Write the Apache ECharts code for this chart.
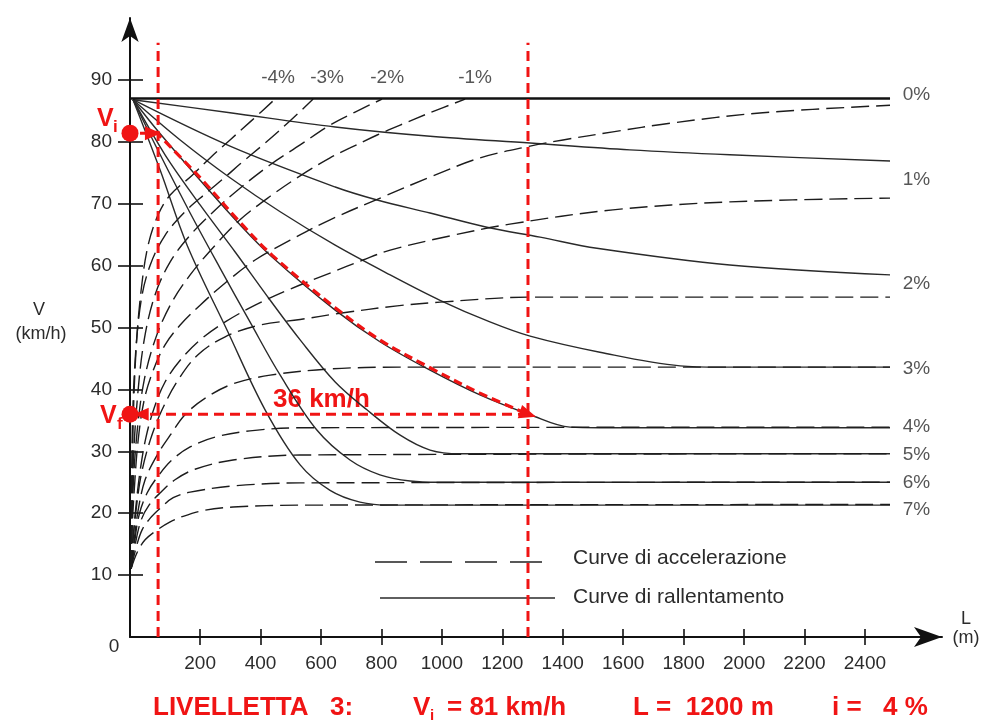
<!DOCTYPE html>
<html>
<head>
<meta charset="utf-8">
<script src="https://cdn.jsdelivr.net/npm/echarts@6/dist/echarts.min.js"></script>
<style>html,body{margin:0;padding:0;background:#fff}#c{width:987px;height:724px}</style>
</head>
<body>
<div id="c"></div>
<script>
// ---- tick values ----
const xTicks = [200,400,600,800,1000,1200,1400,1600,1800,2000,2200,2400];
const yTicks = [10,20,30,40,50,60,70,80,90];

// ---- deceleration curves (solid), [L (m), V (km/h)] ----
const decel0 = [[-32,87.0],[2483,87.0]];
const decel1 = [[-22,86.8],[299,84.7],[647,82.4],[961,80.9],[1292,79.8],[1622,78.7],[1953,77.9],[2483,76.9]];
const decel2 = [[-22,86.8],[299,79.3],[647,72.7],[786,70.6],[961,68.5],[1149,66.2],[1325,64.6],[1513,62.8],[1953,60.1],[2483,58.5]];
const decel3 = [[-22,86.8],[134,80.3],[299,74.2],[465,68.7],[647,63.3],[829,58.5],[994,54.4],[1159,50.9],[1292,48.6],[1523,46.0],[1788,43.8],[1920,43.6],[2483,43.6]];
const decel4 = [[-22,86.8],[61,81.7],[200,73.8],[332,66.6],[438,61.4],[647,52.8],[795,47.7],[961,43.1],[1126,39.1],[1292,35.9],[1424,33.9],[1523,33.8],[2483,33.8]];
const decel5 = [[-22,86.8],[84,77.9],[200,69.8],[316,62.2],[432,54.4],[531,48.0],[647,41.2],[752,36.7],[862,32.6],[961,30.2],[1060,29.6],[2483,29.6]];
const decel6 = [[-22,86.8],[68,77.9],[167,68.5],[266,59.6],[365,50.9],[465,42.3],[587,33.4],[696,28.6],[795,26.2],[895,25.2],[994,25.0],[2483,25.0]];
const decel7 = [[-22,86.8],[68,75.4],[157,63.3],[289,49.6],[415,36.7],[531,27.8],[630,23.7],[729,21.8],[829,21.3],[2483,21.3]];

// ---- acceleration curves (dashed) ----
const accel7 = [[-28,11.1],[-8,13.7],[18,15.7],[58,17.3],[101,18.6],[144,19.5],[217,20.5],[309,21.0],[531,21.3],[2483,21.4]];
const accel6 = [[-28,11.1],[-12,14.4],[8,17.3],[35,19.2],[68,20.8],[111,22.5],[167,23.4],[309,24.4],[531,24.9],[2483,25.0]];
const accel5 = [[-28,11.1],[-15,14.9],[5,18.9],[31,21.3],[68,23.3],[117,25.4],[183,27.1],[309,28.6],[531,29.4],[2483,29.6]];
const accel4 = [[-28,11.1],[-18,14.9],[-2,19.7],[25,23.3],[61,26.0],[107,28.6],[167,30.7],[250,32.3],[365,33.3],[531,33.8],[2483,33.9]];
const accel3 = [[-28,11.1],[-18,15.7],[-5,20.5],[18,25.4],[58,29.4],[101,32.6],[150,35.9],[217,38.6],[309,40.9],[432,42.3],[630,43.3],[862,43.6],[2483,43.6]];
const accel2 = [[-28,11.1],[-22,15.7],[-12,20.5],[5,26.2],[35,31.8],[74,36.7],[127,41.5],[193,45.6],[283,48.5],[398,50.4],[531,51.3],[663,52.3],[852,53.5],[994,54.1],[1292,54.9],[2483,54.9]];
const accel1 = [[-28,11.1],[-22,15.7],[-12,21.3],[2,27.0],[21,32.3],[48,37.0],[84,41.2],[134,44.7],[200,48.0],[283,50.9],[382,53.6],[498,56.2],[630,58.8],[739,60.9],[829,62.5],[1027,64.8],[1225,66.7],[1566,69.0],[1953,70.3],[2483,70.9]];
const accel0 = [[-28,11.1],[-25,17.3],[-18,23.7],[-5,31.8],[15,38.3],[45,43.1],[84,47.2],[134,50.4],[200,53.6],[283,57.2],[382,60.9],[498,64.1],[630,67.4],[805,71.1],[961,74.3],[1126,77.4],[1292,79.3],[1401,80.3],[1566,81.6],[1755,83.0],[2062,84.7],[2483,85.9]];
const accelM1 = [[-28,11.1],[-22,23.7],[-8,33.4],[15,41.5],[51,48.0],[101,53.6],[167,58.5],[250,63.3],[332,67.4],[432,71.2],[531,74.5],[630,77.4],[696,79.0],[786,81.1],[862,82.7],[961,84.7],[1077,86.9]];
const accelM2 = [[-28,11.1],[-22,27.0],[-8,38.3],[15,48.0],[51,55.3],[101,60.6],[167,64.9],[250,69.0],[332,72.5],[432,76.3],[531,79.5],[630,82.7],[713,84.8],[802,86.9]];
const accelM3 = [[-28,11.1],[-25,31.8],[-15,44.7],[5,54.4],[35,60.1],[84,64.9],[150,68.7],[217,71.6],[283,74.3],[332,76.4],[415,79.8],[498,83.4],[574,86.9]];
const accelM4 = [[-28,11.1],[-22,33.4],[-12,46.4],[5,56.1],[28,63.3],[61,68.2],[101,71.4],[174,74.6],[233,77.4],[299,80.3],[372,83.5],[448,86.9]];

// ---- labels ----
const gradeNames = ['0%','1%','2%','3%','4%','5%','6%','7%'];
const gradeLabelV = [87.6,73.8,57.0,43.3,33.9,29.4,24.9,20.5];
const gradeLabelL = 2525;
const downhillNames = ['-4%','-3%','-2%','-1%'];
const downhillL = [458,620,819,1110];
const downhillLabelV = 90.3;

// ---- red annotation (worked example) ----
const viSpeed = 81.4;
const vfSpeed = 36.0;
const startL = 61;
const endL = 1285;
const redTop = 96;
const redCurve = [[51,81.7],[200,74.2],[332,67.0],[438,61.7],[647,53.2],[795,48.0],[961,43.5],[1126,39.4],[1285,36.0]];
const viArrowEnd = 44;
const vfArrowEnd = 5;

const RED = '#f01414';
const FONT = '"Liberation Sans", Arial, Helvetica, sans-serif';
const INK = '#2b2b2b';

function curve(name, data, dashed) {
  return {
    type: 'line', name: name, data: data, symbol: 'none', smooth: 0.35,
    silent: true, z: 2,
    lineStyle: dashed ? {color: '#1c1c1c', width: 1.4, type: [18, 7]} : {color: '#2a2a2a', width: 1.4}
  };
}

const series = [];
[decel1, decel2, decel3, decel4, decel5, decel6, decel7].forEach(d => series.push(curve('Curve di rallentamento', d, false)));
[accel7, accel6, accel5, accel4, accel3, accel2, accel1, accel0, accelM1, accelM2, accelM3, accelM4].forEach(d => series.push(curve('Curve di accelerazione', d, true)));
series.push({type: 'line', name: '0%', data: decel0, symbol: 'none', silent: true, z: 3, lineStyle: {color: '#111', width: 2.4}});

// grade labels
series.push({
  type: 'scatter', silent: true, symbolSize: 0, z: 4,
  data: gradeNames.map((n, i) => ({value: [gradeLabelL, gradeLabelV[i]], name: n})),
  label: {show: true, position: 'right', distance: 0, formatter: p => p.name, fontSize: 19, color: INK, fontFamily: FONT}
});
series.push({
  type: 'scatter', silent: true, symbolSize: 0, z: 4,
  data: downhillNames.map((n, i) => ({value: [downhillL[i], downhillLabelV], name: n})),
  label: {show: true, position: 'inside', formatter: p => p.name, fontSize: 19, color: INK, fontFamily: FONT}
});

const redDash = {color: RED, width: 3, type: [10, 6]};
// red verticals
series.push({type: 'line', data: [[startL, 0], [startL, redTop]], symbol: 'none', silent: true, z: 5, lineStyle: redDash});
series.push({type: 'line', data: [[endL, 0], [endL, redTop]], symbol: 'none', silent: true, z: 5, lineStyle: redDash});
// red curve along 4% with arrow
series.push({
  type: 'line', silent: true, z: 6, symbol: 'none', showSymbol: true, smooth: 0.35,
  lineStyle: {color: RED, width: 3.2, type: [9, 5]}, itemStyle: {color: RED, opacity: 1},
  data: redCurve.map((p, i) => i === redCurve.length - 1 ? {value: p, symbol: 'triangle', symbolSize: [14, 17], symbolRotate: -108} : p)
});
// horizontal Vf line with arrow
series.push({
  type: 'line', silent: true, z: 6, symbol: 'none', showSymbol: true,
  lineStyle: {color: RED, width: 3, type: [10, 6]}, itemStyle: {color: RED, opacity: 1},
  data: [[endL, vfSpeed], {value: [vfArrowEnd, vfSpeed], symbol: 'triangle', symbolSize: [13, 15], symbolRotate: 90}]
});
// Vi arrow
series.push({
  type: 'line', silent: true, z: 6, symbol: 'none', showSymbol: true,
  lineStyle: {color: RED, width: 3, type: [6, 4]}, itemStyle: {color: RED, opacity: 1},
  data: [[-32, viSpeed], {value: [viArrowEnd, viSpeed], symbol: 'triangle', symbolSize: [14, 16], symbolRotate: -90}]
});
// dots
series.push({
  type: 'scatter', silent: true, z: 7, symbolSize: 17, clip: false, itemStyle: {color: RED, opacity: 1},
  data: [[-32, viSpeed], [-32, vfSpeed]]
});

const axisLineStyle = {color: '#111', width: 2};
const tickStyle = {color: '#111', width: 1.6};
const plain = v => String(v);

const option = {
  animation: false,
  backgroundColor: '#fff',
  grid: {left: 130, right: 45, top: 18, bottom: 87, containLabel: false},
  xAxis: [{
    type: 'value', min: -32, max: 2655,
    axisLine: {show: true, onZero: false, lineStyle: axisLineStyle, symbol: ['none', 'arrow'], symbolSize: [15, 28]},
    axisTick: {show: true, customValues: xTicks, length: 8, lineStyle: tickStyle},
    axisLabel: {show: true, customValues: xTicks, formatter: plain, margin: 17, fontSize: 19, color: INK, fontFamily: FONT},
    splitLine: {show: false}
  }, {
    type: 'value', min: -32, max: 2655, position: 'bottom',
    axisLine: {show: false, onZero: false},
    axisTick: {show: true, inside: true, customValues: xTicks, length: 8, lineStyle: tickStyle},
    axisLabel: {show: false}, splitLine: {show: false}
  }],
  yAxis: [{
    type: 'value', min: 0, max: 100,
    axisLine: {show: true, onZero: false, lineStyle: axisLineStyle, symbol: ['none', 'arrow'], symbolSize: [13, 24]},
    axisTick: {show: true, customValues: yTicks, length: 12, lineStyle: tickStyle},
    axisLabel: {show: true, customValues: yTicks, formatter: plain, margin: 18, fontSize: 19, color: INK, fontFamily: FONT},
    splitLine: {show: false}
  }, {
    type: 'value', min: 0, max: 100, position: 'left',
    axisLine: {show: false, onZero: false},
    axisTick: {show: true, inside: true, customValues: yTicks, length: 13, lineStyle: tickStyle},
    axisLabel: {show: false}, splitLine: {show: false}
  }],
  series: series,
  graphic: [
    {type: 'text', x: 39, y: 310, style: {text: 'V', fontSize: 18, fill: INK, fontFamily: FONT, align: 'center', verticalAlign: 'middle'}},
    {type: 'text', x: 41, y: 334, style: {text: '(km/h)', fontSize: 18, fill: INK, fontFamily: FONT, align: 'center', verticalAlign: 'middle'}},
    {type: 'text', x: 114, y: 647, style: {text: '0', fontSize: 19, fill: INK, fontFamily: FONT, align: 'center', verticalAlign: 'middle'}},
    {type: 'text', x: 966, y: 619, style: {text: 'L', fontSize: 18, fill: INK, fontFamily: FONT, align: 'center', verticalAlign: 'middle'}},
    {type: 'text', x: 966, y: 638, style: {text: '(m)', fontSize: 18, fill: INK, fontFamily: FONT, align: 'center', verticalAlign: 'middle'}},
    // legend
    {type: 'line', shape: {x1: 375, y1: 562, x2: 555, y2: 562}, style: {stroke: '#222', lineWidth: 1.7, lineDash: [32, 13]}},
    {type: 'line', shape: {x1: 380, y1: 598, x2: 555, y2: 598}, style: {stroke: '#2a2a2a', lineWidth: 1.4}},
    {type: 'text', x: 573, y: 558, style: {text: 'Curve di accelerazione', fontSize: 21, fill: INK, fontFamily: FONT, align: 'left', verticalAlign: 'middle'}},
    {type: 'text', x: 573, y: 597, style: {text: 'Curve di rallentamento', fontSize: 21, fill: INK, fontFamily: FONT, align: 'left', verticalAlign: 'middle'}},
    // red labels
    {type: 'text', x: 97, y: 119, style: {text: 'V', fontSize: 25, fontWeight: 'bold', fill: RED, fontFamily: FONT, align: 'left', verticalAlign: 'middle'}},
    {type: 'text', x: 113, y: 127, style: {text: 'i', fontSize: 17, fontWeight: 'bold', fill: RED, fontFamily: FONT, align: 'left', verticalAlign: 'middle'}},
    {type: 'text', x: 100, y: 416, style: {text: 'V', fontSize: 25, fontWeight: 'bold', fill: RED, fontFamily: FONT, align: 'left', verticalAlign: 'middle'}},
    {type: 'text', x: 117, y: 424, style: {text: 'f', fontSize: 17, fontWeight: 'bold', fill: RED, fontFamily: FONT, align: 'left', verticalAlign: 'middle'}},
    {type: 'text', x: 273, y: 400, style: {text: '36 km/h', fontSize: 26, fontWeight: 'bold', fill: RED, fontFamily: FONT, align: 'left', verticalAlign: 'middle'}},
    // bottom caption
    {type: 'text', x: 153, y: 708, style: {text: 'LIVELLETTA', fontSize: 26, fontWeight: 'bold', fill: RED, fontFamily: FONT, align: 'left', verticalAlign: 'middle'}},
    {type: 'text', x: 330, y: 708, style: {text: '3:', fontSize: 26, fontWeight: 'bold', fill: RED, fontFamily: FONT, align: 'left', verticalAlign: 'middle'}},
    {type: 'text', x: 413, y: 708, style: {text: 'V', fontSize: 26, fontWeight: 'bold', fill: RED, fontFamily: FONT, align: 'left', verticalAlign: 'middle'}},
    {type: 'text', x: 430, y: 716, style: {text: 'i', fontSize: 15, fontWeight: 'bold', fill: RED, fontFamily: FONT, align: 'left', verticalAlign: 'middle'}},
    {type: 'text', x: 447, y: 708, style: {text: '= 81 km/h', fontSize: 26, fontWeight: 'bold', fill: RED, fontFamily: FONT, align: 'left', verticalAlign: 'middle'}},
    {type: 'text', x: 633, y: 708, style: {text: 'L =  1200 m', fontSize: 26, fontWeight: 'bold', fill: RED, fontFamily: FONT, align: 'left', verticalAlign: 'middle'}},
    {type: 'text', x: 832, y: 708, style: {text: 'i =', fontSize: 26, fontWeight: 'bold', fill: RED, fontFamily: FONT, align: 'left', verticalAlign: 'middle'}},
    {type: 'text', x: 883, y: 708, style: {text: '4 %', fontSize: 26, fontWeight: 'bold', fill: RED, fontFamily: FONT, align: 'left', verticalAlign: 'middle'}}
  ]
};

const chart = echarts.init(document.getElementById('c'), null, {renderer: 'canvas'});
chart.setOption(option);
</script>
</body>
</html>
